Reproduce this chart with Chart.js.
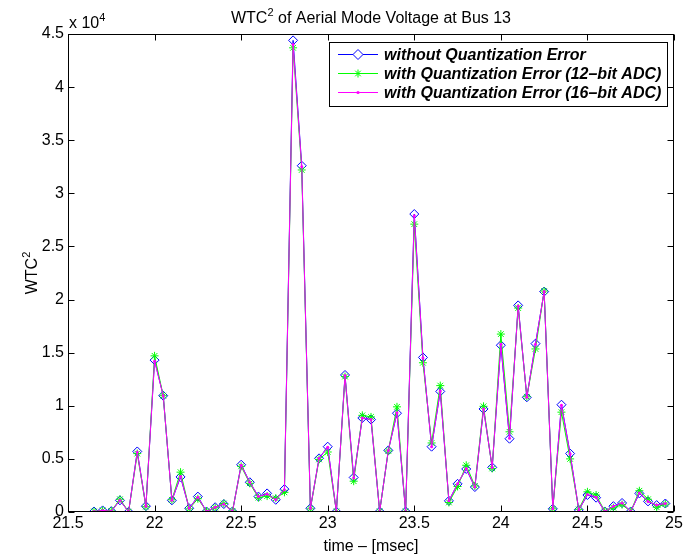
<!DOCTYPE html>
<html>
<head>
<meta charset="utf-8">
<script src="https://cdn.jsdelivr.net/npm/chart.js@4/dist/chart.umd.min.js"></script>
<style>
  body { margin: 0; background: #fff; }
  canvas { display: block; }
</style>
</head>
<body>
<canvas id="wtc-chart" width="697" height="559"></canvas>
<script>
// time axis in msec
const times = [
  21.65, 21.70, 21.75, 21.80, 21.85, 21.90, 21.95, 22.00, 22.05, 22.10,
  22.15, 22.20, 22.25, 22.30, 22.35, 22.40, 22.45, 22.50, 22.55, 22.60,
  22.65, 22.70, 22.75, 22.80, 22.85, 22.90, 22.95, 23.00, 23.05, 23.10,
  23.15, 23.20, 23.25, 23.30, 23.35, 23.40, 23.45, 23.50, 23.55, 23.60,
  23.65, 23.70, 23.75, 23.80, 23.85, 23.90, 23.95, 24.00, 24.05, 24.10,
  24.15, 24.20, 24.25, 24.30, 24.35, 24.40, 24.45, 24.50, 24.55, 24.60,
  24.65, 24.70, 24.75, 24.80, 24.85, 24.90, 24.95
];

// WTC^2 without quantization error
const noQuant = [
  50, 150, 80, 1100, 20, 5700, 550, 14300, 10950, 1100,
  3300, 350, 1450, 50, 450, 750, 50, 4450, 2800, 1450,
  1750, 1150, 2150, 44400, 32600, 350, 5050, 6150, 30, 12900,
  3250, 8850, 8700, 50, 5800, 9300, 50, 28050, 14550, 6150,
  11350, 1050, 2650, 4050, 2350, 9700, 4200, 15700, 6900, 19450,
  10800, 15850, 20750, 300, 10100, 5500, 200, 1600, 1350, 50,
  550, 850, 50, 1750, 1000, 650, 800
];

// 12-bit ADC
const adc12 = [
  50, 150, 100, 1200, 30, 5500, 500, 14700, 10950, 1150,
  3750, 300, 1250, 80, 400, 800, 100, 4300, 2700, 1350,
  1500, 1300, 1850, 43700, 32200, 300, 4950, 5650, 50, 12750,
  2900, 9100, 8950, 60, 5750, 9900, 60, 27100, 14050, 6500,
  11900, 900, 2400, 4400, 2450, 9950, 4100, 16750, 7550, 19200,
  10850, 15350, 20800, 300, 9400, 5000, 250, 1900, 1600, 80,
  400, 700, 50, 2000, 1200, 450, 750
];

// 16-bit ADC
const adc16 = [
  50, 150, 80, 1100, 20, 5650, 550, 14200, 10950, 1100,
  3350, 350, 1400, 50, 450, 750, 50, 4400, 2800, 1450,
  1700, 1150, 2100, 44000, 32500, 350, 5050, 6100, 30, 12850,
  3200, 8850, 8700, 50, 5800, 9350, 50, 27900, 14500, 6150,
  11400, 1050, 2650, 4100, 2350, 9700, 4200, 15800, 6950, 19400,
  10800, 15800, 20750, 300, 10050, 5450, 200, 1650, 1400, 50,
  530, 850, 50, 1800, 1000, 650, 800
];

const seriesNames = [
  'without Quantization Error',
  'with Quantization Error (12\u2013bit ADC)',
  'with Quantization Error (16\u2013bit ADC)'
];

const xTicks = [21.5, 22, 22.5, 23, 23.5, 24, 24.5, 25];
const yTicks = [0, 5000, 10000, 15000, 20000, 25000, 30000, 35000, 40000, 45000];
const yTickLabels = ['0', '0.5', '1', '1.5', '2', '2.5', '3', '3.5', '4', '4.5'];

const FONT = '"Liberation Sans", Arial, Helvetica, sans-serif';

function toPoints(values) {
  return values.map((v, i) => ({ x: times[i], y: v }));
}

// draws the text with a superscript part, returns the width
function drawSup(ctx, parts, x, y, size, measureOnly) {
  let cx = x;
  parts.forEach(p => {
    const s = p.sup ? Math.round(size * 0.7) : size;
    ctx.font = s + 'px ' + FONT;
    if (!measureOnly) ctx.fillText(p.text, cx, p.sup ? y - size * 0.42 : y);
    cx += ctx.measureText(p.text).width;
  });
  return cx - x;
}

const matlabFrame = {
  id: 'matlabFrame',
  beforeDraw(chart) {
    const ctx = chart.ctx;
    ctx.save();
    ctx.fillStyle = '#fff';
    ctx.fillRect(0, 0, chart.width, chart.height);
    ctx.restore();
  },
  afterDraw(chart) {
    const ctx = chart.ctx;
    const a = chart.chartArea;
    const xs = chart.scales.x;
    const ys = chart.scales.y;
    const L = Math.round(a.left) + 0.5, R = Math.round(a.right) - 0.5;
    const T = Math.round(a.top) + 0.5, B = Math.round(a.bottom) - 0.5;
    ctx.save();
    ctx.strokeStyle = '#000';
    ctx.lineWidth = 1;
    ctx.strokeRect(L, T, R - L, B - T);

    // inward ticks on all four sides
    ctx.beginPath();
    xTicks.forEach(v => {
      const px = Math.round(xs.getPixelForValue(v)) + 0.5;
      ctx.moveTo(px, B); ctx.lineTo(px, B - 6);
      ctx.moveTo(px, T); ctx.lineTo(px, T + 6);
    });
    yTicks.forEach(v => {
      const py = Math.round(ys.getPixelForValue(v)) + 0.5;
      ctx.moveTo(L, py); ctx.lineTo(L + 6, py);
      ctx.moveTo(R, py); ctx.lineTo(R - 6, py);
    });
    ctx.stroke();

    ctx.fillStyle = '#000';
    ctx.textBaseline = 'alphabetic';
    ctx.textAlign = 'left';

    // title
    const titleParts = [{ text: 'WTC' }, { text: '2', sup: true }, { text: ' of Aerial Mode Voltage at Bus 13' }];
    const tw = drawSup(ctx, titleParts, 0, 0, 16, true);
    drawSup(ctx, titleParts, (a.left + a.right) / 2 - tw / 2, 23, 16);

    // exponent label
    drawSup(ctx, [{ text: 'x 10' }, { text: '4', sup: true }], a.left + 1, 28, 16);

    // x axis label
    ctx.font = '16px ' + FONT;
    ctx.textAlign = 'center';
    ctx.fillText('time \u2013 [msec]', (a.left + a.right) / 2, 551);

    // y axis label
    ctx.save();
    ctx.translate(37, (a.top + a.bottom) / 2);
    ctx.rotate(-Math.PI / 2);
    ctx.textAlign = 'left';
    const yParts = [{ text: 'WTC' }, { text: '2', sup: true }];
    const yw = drawSup(ctx, yParts, 0, 0, 16, true);
    drawSup(ctx, yParts, -yw / 2, 0, 16);
    ctx.restore();

    // legend box
    const lx = 329.5, ly = 42.5, lw = 338, lh = 64;
    ctx.fillStyle = '#fff';
    ctx.fillRect(lx, ly, lw, lh);
    ctx.strokeStyle = '#000';
    ctx.strokeRect(lx, ly, lw, lh);
    const colors = ['#0000ff', '#00ff00', '#ff00ff'];
    ctx.font = 'italic bold 16px ' + FONT;
    ctx.textAlign = 'left';
    ctx.textBaseline = 'middle';
    seriesNames.forEach((name, i) => {
      const y = 54.5 + i * 19;
      ctx.strokeStyle = colors[i];
      ctx.lineWidth = 1;
      ctx.beginPath();
      ctx.moveTo(338, y); ctx.lineTo(378, y);
      ctx.stroke();
      const mx = 358;
      ctx.beginPath();
      if (i === 0) {
        ctx.moveTo(mx, y - 5); ctx.lineTo(mx + 5, y); ctx.lineTo(mx, y + 5); ctx.lineTo(mx - 5, y); ctx.closePath();
        ctx.fillStyle = '#fff';
        ctx.fill();
        ctx.stroke();
      } else if (i === 1) {
        const r = 4;
        ctx.moveTo(mx - r, y); ctx.lineTo(mx + r, y);
        ctx.moveTo(mx, y - r); ctx.lineTo(mx, y + r);
        ctx.moveTo(mx - r * 0.7, y - r * 0.7); ctx.lineTo(mx + r * 0.7, y + r * 0.7);
        ctx.moveTo(mx - r * 0.7, y + r * 0.7); ctx.lineTo(mx + r * 0.7, y - r * 0.7);
        ctx.stroke();
      } else {
        ctx.fillStyle = colors[i];
        ctx.arc(mx, y, 1.6, 0, Math.PI * 2);
        ctx.fill();
      }
      ctx.fillStyle = '#000';
      ctx.fillText(name, 384, y + 1);
    });
    ctx.restore();
  }
};

const ctx = document.getElementById('wtc-chart').getContext('2d');
new Chart(ctx, {
  type: 'line',
  data: {
    datasets: [
      {
        label: seriesNames[0],
        data: toPoints(noQuant),
        borderColor: '#0000ff',
        borderWidth: 1,
        pointStyle: 'rectRot',
        pointRadius: 4.5,
        pointBorderWidth: 1,
        pointBorderColor: '#0000ff',
        pointBackgroundColor: 'rgba(0,0,0,0)',
        tension: 0,
        order: 2
      },
      {
        label: seriesNames[1],
        data: toPoints(adc12),
        borderColor: '#00ff00',
        borderWidth: 1,
        pointStyle: 'star',
        pointRadius: 4,
        pointBorderWidth: 1,
        pointBorderColor: '#00ff00',
        pointBackgroundColor: '#00ff00',
        tension: 0,
        order: 1
      },
      {
        label: seriesNames[2],
        data: toPoints(adc16),
        borderColor: '#ff00ff',
        borderWidth: 1,
        pointStyle: 'circle',
        pointRadius: 1.5,
        pointBorderWidth: 0,
        pointBackgroundColor: '#ff00ff',
        tension: 0,
        order: 0
      }
    ]
  },
  options: {
    responsive: false,
    animation: false,
    events: [],
    layout: {
      padding: { top: 34, right: 23, left: 0, bottom: 0 }
    },
    plugins: {
      legend: { display: false },
      title: { display: false },
      tooltip: { enabled: false }
    },
    scales: {
      x: {
        type: 'linear',
        min: 21.5,
        max: 25,
        grid: { display: false, drawTicks: false },
        border: { display: false },
        afterBuildTicks: scale => { scale.ticks = xTicks.map(v => ({ value: v })); },
        afterFit: scale => { scale.height = 47; },
        ticks: {
          color: '#000',
          padding: 2,
          maxRotation: 0,
          autoSkip: false,
          font: { family: FONT, size: 16 },
          callback: v => String(v)
        }
      },
      y: {
        min: 0,
        max: 45000,
        grid: { display: false, drawTicks: false },
        border: { display: false },
        afterBuildTicks: scale => { scale.ticks = yTicks.map(v => ({ value: v })); },
        afterFit: scale => { scale.width = 68; },
        ticks: {
          color: '#000',
          padding: 4,
          autoSkip: false,
          font: { family: FONT, size: 16 },
          callback: v => yTickLabels[yTicks.indexOf(v)]
        }
      }
    }
  },
  plugins: [matlabFrame]
});
</script>
</body>
</html>
